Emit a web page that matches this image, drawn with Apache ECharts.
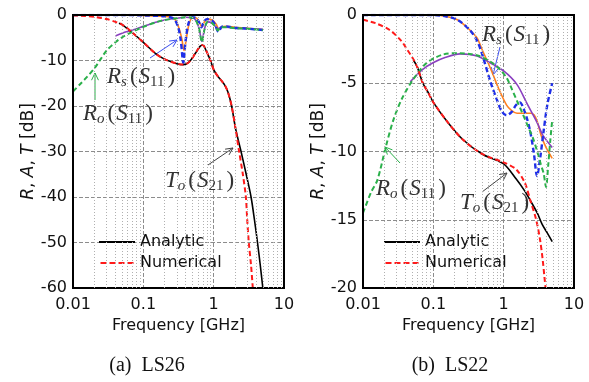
<!DOCTYPE html>
<html>
<head>
<meta charset="utf-8">
<script src="https://cdn.jsdelivr.net/npm/echarts@6/dist/echarts.min.js"></script>
<style>
  html, body { margin: 0; padding: 0; background: #fff; }
  #chart { width: 589px; height: 382px; }
</style>
</head>
<body>
<div id="chart"></div>
<script>
// ---- data: [frequency GHz, dB] ----
// (a) LS26
const ls26ToAnalytic = [[0.045,-1.8],[0.05,-2.1],[0.07,-3.9],[0.1,-6.0],[0.15,-8.5],[0.2,-9.7],[0.3,-10.7],[0.37,-10.9],[0.45,-10.3],[0.55,-8.4],[0.64,-6.9],[0.7,-6.6],[0.78,-7.8],[0.9,-10],[1.0,-12],[1.15,-13.5],[1.3,-14.5],[1.45,-15.5],[1.6,-17],[1.8,-20],[2.05,-25],[2.45,-30],[2.9,-35],[3.4,-40],[3.8,-45],[4.2,-50],[4.6,-55],[5.0,-60]];
const ls26ToNumerical = [[0.01,-0.1],[0.015,-0.2],[0.02,-0.4],[0.03,-0.9],[0.04,-1.5],[0.05,-2.1],[0.07,-3.9],[0.1,-6.0],[0.15,-8.5],[0.2,-9.7],[0.3,-10.7],[0.37,-10.9],[0.45,-10.3],[0.55,-8.4],[0.64,-6.9],[0.7,-6.6],[0.78,-7.8],[0.9,-10],[1.0,-12],[1.15,-13.5],[1.3,-14.5],[1.45,-15.5],[1.6,-17],[1.8,-20],[2.0,-24],[2.3,-30],[2.6,-35],[2.87,-40],[3.0,-45],[3.16,-50],[3.4,-55],[3.6,-60]];
const ls26RsAnalytic = [[0.01,0],[0.05,0],[0.1,-0.1],[0.2,-0.3],[0.27,-0.7],[0.31,-2.2],[0.35,-5],[0.38,-7.8],[0.41,-5],[0.45,-1.8],[0.5,-0.6],[0.56,-0.6],[0.62,-1.5],[0.68,-2.6],[0.74,-1.5],[0.82,-0.9],[0.95,-1.1],[1.08,-2],[1.2,-3.2],[1.32,-2.6],[1.5,-2.5],[2,-2.7],[3,-2.9],[5,-3.2]];
const ls26RsNumerical = [[0.01,0],[0.05,0],[0.1,-0.1],[0.2,-0.3],[0.27,-0.8],[0.31,-2.5],[0.34,-5.5],[0.37,-10.5],[0.4,-5.5],[0.44,-1.8],[0.5,-0.5],[0.56,-0.6],[0.62,-1.6],[0.67,-2.7],[0.72,-1.6],[0.8,-0.9],[0.95,-1.2],[1.05,-2.2],[1.17,-3.7],[1.3,-2.6],[1.5,-2.5],[2,-2.8],[3,-3.0],[5,-3.3]];
const ls26RoAnalytic = [[0.04,-4.6],[0.05,-4.0],[0.07,-3.3],[0.1,-2.5],[0.15,-1.6],[0.2,-1.1],[0.3,-0.7],[0.4,-0.5],[0.5,-0.6],[0.56,-1.2],[0.62,-2.9],[0.68,-5.8],[0.74,-3.1],[0.82,-1.5],[0.95,-1.8],[1.08,-2.7],[1.15,-3.2],[1.25,-2.7],[1.5,-2.7],[2,-2.9],[3,-3.0],[5,-3.2]];
const ls26RoNumerical = [[0.01,-16.8],[0.013,-15],[0.015,-14],[0.02,-11.8],[0.025,-9.6],[0.03,-7.8],[0.04,-6.0],[0.05,-4.9],[0.07,-3.7],[0.1,-2.6],[0.15,-1.6],[0.2,-1.1],[0.3,-0.7],[0.4,-0.5],[0.5,-0.6],[0.56,-1.2],[0.62,-3],[0.68,-6.0],[0.74,-3.2],[0.82,-1.5],[0.95,-1.8],[1.08,-2.8],[1.15,-3.4],[1.25,-2.7],[1.5,-2.7],[2,-2.9],[3,-3.0],[5,-3.3]];
// (b) LS22
const ls22ToAnalytic = [[0.052,-3.3],[0.059,-3.8],[0.071,-5.0],[0.085,-5.7],[0.1,-6.4],[0.157,-7.8],[0.26,-9.1],[0.5,-10.2],[1.0,-10.9],[1.5,-12.0],[2.0,-12.9],[2.4,-13.6],[3.0,-14.5],[3.5,-15.3],[4.2,-16.0],[4.9,-16.6]];
const ls22ToNumerical = [[0.01,-0.35],[0.015,-0.6],[0.024,-1.1],[0.035,-1.9],[0.042,-2.5],[0.05,-3.1],[0.059,-3.8],[0.071,-5.0],[0.085,-5.7],[0.1,-6.4],[0.157,-7.8],[0.26,-9.1],[0.5,-10.2],[1.0,-10.8],[1.5,-11.3],[2.0,-12.3],[2.4,-13.6],[2.9,-15],[3.3,-16.5],[3.6,-18],[3.8,-19.2],[3.95,-20]];
const ls22RsAnalytic = [[0.01,0],[0.1,0],[0.15,-0.1],[0.22,-0.35],[0.33,-1.1],[0.42,-1.7],[0.5,-2.6],[0.6,-3.5],[0.71,-4.4],[0.85,-5.4],[1.1,-6.6],[1.3,-7.0],[1.55,-7.2],[2.0,-7.2],[2.4,-7.2],[2.7,-7.3],[3.0,-7.8],[3.4,-8.8],[4.0,-9.7],[4.9,-10.5]];
const ls22RsNumerical = [[0.01,0],[0.1,0],[0.15,-0.1],[0.22,-0.35],[0.33,-1.1],[0.42,-1.9],[0.51,-3.1],[0.64,-4.8],[0.8,-6.2],[0.95,-7.1],[1.1,-7.35],[1.3,-7.1],[1.5,-6.6],[1.7,-6.4],[1.9,-6.8],[2.15,-7.6],[2.4,-8.6],[2.7,-10.2],[2.98,-11.8],[3.3,-10.5],[3.7,-8.5],[4.2,-6.5],[4.9,-5.0]];
const ls22RoAnalytic = [[0.047,-4.9],[0.07,-4.0],[0.099,-3.5],[0.15,-3.1],[0.24,-2.85],[0.42,-3.0],[0.64,-3.5],[1.0,-4.1],[1.55,-5.1],[2.15,-6.5],[3.0,-7.9],[3.6,-8.8],[4.9,-9.7]];
const ls22RoNumerical = [[0.01,-14.5],[0.013,-13],[0.016,-12.1],[0.021,-9.7],[0.027,-7.7],[0.036,-6.1],[0.052,-4.7],[0.081,-3.5],[0.137,-2.9],[0.24,-2.8],[0.33,-2.85],[0.45,-3.0],[0.64,-3.4],[0.85,-3.9],[1.1,-4.6],[1.3,-5.4],[1.55,-6.3],[1.85,-7.2],[2.15,-8],[2.6,-9],[3.0,-10],[3.4,-11],[3.7,-11.6],[4.0,-12.6],[4.3,-11],[4.6,-9.2],[4.9,-7.7]];

// minor log grid lines
const minorFreqs = [0.02,0.03,0.04,0.05,0.06,0.07,0.08,0.09,0.2,0.3,0.4,0.5,0.6,0.7,0.8,0.9,2,3,4,5,6,7,8,9];

const FONT = 'DejaVu Sans';
const SERIF = 'Liberation Serif';
const C = {
  black: '#000000', red: '#ff1a1a', green: '#2ab04a',
  blue: '#1f2fe8', orange: '#ff8020', purple: '#8a3fc0'
};
// legend icons: plain bar and dashed bar
const solidIcon = 'path://M0,0H36V2H0Z';
const dashIcon = 'path://M0,0H6V2H0Z M9,0H15V2H9Z M18,0H24V2H18Z M27,0H33V2H27Z';

function solid(name, data, color, g, width) {
  return {
    name, type: 'line', data, xAxisIndex: g, yAxisIndex: g,
    showSymbol: false, symbol: 'none', smooth: 0.3, z: 3,
    lineStyle: { color, width: width || 1.6 }, itemStyle: { color }
  };
}
function dashed(name, data, color, g, width) {
  return {
    name, type: 'line', data, xAxisIndex: g, yAxisIndex: g,
    showSymbol: false, symbol: 'none', smooth: 0.3, z: 4,
    lineStyle: { color, width: width || 2, type: [5, 3] }, itemStyle: { color }
  };
}
function minorGrid(g) {
  return {
    type: 'line', data: [], xAxisIndex: g, yAxisIndex: g, z: 1, silent: true,
    markLine: {
      silent: true, symbol: 'none', animation: false, label: { show: false },
      lineStyle: { type: [1, 2], color: '#b0b0b0', width: 1 },
      data: minorFreqs.map(v => ({ xAxis: v }))
    }
  };
}

function xAxis(g) {
  return {
    type: 'log', logBase: 10, gridIndex: g, min: 0.01, max: 10,
    axisLine: { show: false }, axisTick: { show: false },
    axisLabel: {
      fontFamily: FONT, fontSize: 16, color: '#111', margin: 9,
      formatter: v => String(+(+v).toPrecision(3))
    },
    splitLine: { show: true, lineStyle: { type: [4, 2], color: '#8c8c8c' } },
    name: 'Frequency [GHz]', nameLocation: 'middle', nameGap: 26,
    nameTextStyle: { fontFamily: FONT, fontSize: 16, color: '#111' }
  };
}
function yAxis(g, min, step) {
  return {
    type: 'value', gridIndex: g, min, max: 0, interval: step,
    axisLine: { show: false }, axisTick: { show: false },
    axisLabel: { fontFamily: FONT, fontSize: 16, color: '#111', margin: 6 },
    splitLine: { show: true, lineStyle: { type: [4, 2], color: '#8c8c8c' } },
    name: '{i|R}, {i|A}, {i|T} [dB]', nameLocation: 'middle', nameGap: 35,
    nameTextStyle: {
      fontFamily: FONT, fontSize: 17, color: '#111',
      rich: { i: { fontFamily: FONT, fontStyle: 'italic', fontSize: 17, color: '#111' } }
    }
  };
}

const rich = {
  i: { fontFamily: SERIF, fontStyle: 'italic', fontSize: 23, lineHeight: 26, fill: '#333', color: '#333' },
  n: { fontFamily: SERIF, fontSize: 23, lineHeight: 26, fill: '#333', color: '#333', padding: [0, 1, 0, 1] },
  si: { fontFamily: SERIF, fontStyle: 'italic', fontSize: 15, lineHeight: 12, verticalAlign: 'bottom', fill: '#333', color: '#333', padding: [0, 2, 0, 0] },
  sn: { fontFamily: SERIF, fontSize: 15, lineHeight: 12, verticalAlign: 'bottom', fill: '#333', color: '#333', padding: [0, 2, 0, 0] }
};
function label(x, y, main, sub, num) {
  return {
    type: 'text', x, y, z: 20,
    style: {
      text: '{i|' + main + '}{si|' + sub + '}{n|(}{i|S}{sn|' + num + '}{n|)}',
      rich, verticalAlign: 'middle', align: 'left'
    }
  };
}
function arrow(x1, y1, x2, y2, color) {
  const a = Math.atan2(y2 - y1, x2 - x1), L = 8, w = 0.45;
  return {
    type: 'group', z: 20,
    children: [
      { type: 'line', shape: { x1, y1, x2, y2 }, style: { stroke: color, lineWidth: 1 } },
      { type: 'polyline', shape: { points: [
        [x2 - L * Math.cos(a - w), y2 - L * Math.sin(a - w)], [x2, y2],
        [x2 - L * Math.cos(a + w), y2 - L * Math.sin(a + w)]] },
        style: { stroke: color, lineWidth: 1, fill: null } }
    ]
  };
}

const chart = echarts.init(document.getElementById('chart'));
chart.setOption({
  animation: false,
  backgroundColor: '#fff',
  grid: [
    { left: 73, top: 15, width: 211, height: 273, show: true, borderColor: '#000', borderWidth: 2, z: 5 },
    { left: 363, top: 15, width: 211, height: 273, show: true, borderColor: '#000', borderWidth: 2, z: 5 }
  ],
  xAxis: [xAxis(0), xAxis(1)],
  yAxis: [yAxis(0, -60, 10), yAxis(1, -20, 5)],
  legend: [0, 1].map(i => ({
    data: [{ name: 'Analytic', icon: solidIcon }, { name: 'Numerical', icon: dashIcon }],
    orient: 'vertical', selectedMode: false,
    left: i === 0 ? 94 : 379, top: 228, itemWidth: 36, itemHeight: 2, itemGap: 3,
    textStyle: { fontFamily: FONT, fontSize: 16, color: '#111', lineHeight: 18 }
  })),
  series: [
    minorGrid(0), minorGrid(1),
    solid('Rs analytic (a)', ls26RsAnalytic, C.orange, 0),
    solid('Ro analytic (a)', ls26RoAnalytic, C.purple, 0),
    solid('Analytic', ls26ToAnalytic, C.black, 0),
    dashed('Rs numerical (a)', ls26RsNumerical, C.blue, 0, 2.4),
    dashed('Ro numerical (a)', ls26RoNumerical, C.green, 0),
    dashed('Numerical', ls26ToNumerical, C.red, 0),
    solid('Rs analytic (b)', ls22RsAnalytic, C.orange, 1),
    solid('Ro analytic (b)', ls22RoAnalytic, C.purple, 1),
    solid('Analytic', ls22ToAnalytic, C.black, 1),
    dashed('Rs numerical (b)', ls22RsNumerical, C.blue, 1, 2.4),
    dashed('Ro numerical (b)', ls22RoNumerical, C.green, 1),
    dashed('Numerical', ls22ToNumerical, C.red, 1)
  ],
  graphic: [
    label(107, 77, 'R', 's', '11'),
    label(83, 114, 'R', 'o', '11'),
    label(165, 181, 'T', 'o', '21'),
    arrow(150, 58, 177, 40, '#3a4cf0'),
    arrow(95, 100, 95, 73, '#2ab04a'),
    arrow(208, 165, 233, 148, '#444'),
    label(482, 35, 'R', 's', '11'),
    label(376, 189, 'R', 'o', '11'),
    label(460, 203, 'T', 'o', '21'),
    arrow(500, 47, 493, 75, '#3a4cf0'),
    arrow(400, 163, 385, 147, '#2ab04a'),
    arrow(482, 192, 507, 173, '#444'),
    { type: 'text', x: 147, y: 366, style: { text: '(a)  LS26', font: '20px "Liberation Serif"', fill: '#111', align: 'center', verticalAlign: 'middle' } },
    { type: 'text', x: 450, y: 366, style: { text: '(b)  LS22', font: '20px "Liberation Serif"', fill: '#111', align: 'center', verticalAlign: 'middle' } }
  ]
});
</script>
</body>
</html>
